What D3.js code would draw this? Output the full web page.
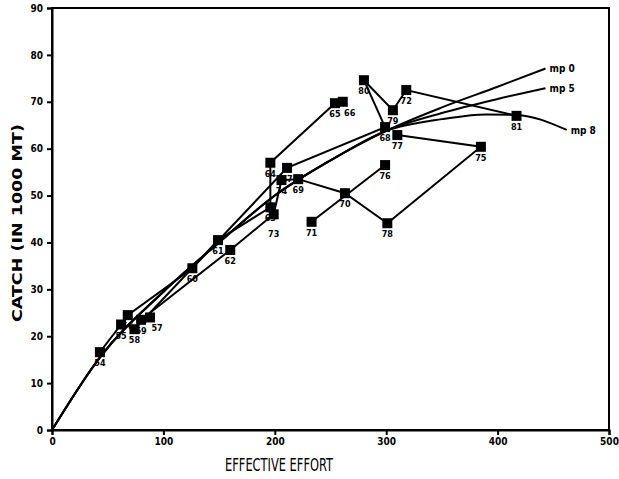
<!DOCTYPE html>
<html>
<head>
<meta charset="utf-8">
<script src="https://cdn.jsdelivr.net/npm/d3@7"></script>
<style>
  html, body { margin: 0; padding: 0; background: #fff; }
  svg { display: block; }
</style>
</head>
<body>
<svg id="chart" width="619" height="479"></svg>
<script>
// ---- data ----
const xTicks = [0, 100, 200, 300, 400, 500];
const yTicks = [0, 10, 20, 30, 40, 50, 60, 70, 80, 90];
const xTitle = "EFFECTIVE EFFORT";
const yTitle = "CATCH (IN 1000 MT)";

// observed years: label, effective effort, catch
const years  = ["54","55","56","57","58","59","60","61","62","63","64","65","66","67","68","69","70","71","72","73","74","75","76","77","78","79","80","81"];
const effort = [ 43,  62,  68,  88,  74,  80, 126, 149, 160, 196, 196, 254, 261, 211, 299, 221, 263, 233, 318, 199, 206, 385, 299, 310, 301, 306, 280, 417];
const catchV = [16.6, 22.5, 24.5, 24.0, 21.5, 23.5, 34.5, 40.5, 38.4, 47.5, 57.0, 69.7, 70.0, 55.9, 64.6, 53.5, 50.5, 44.4, 72.5, 46.0, 53.3, 60.4, 56.5, 62.9, 44.1, 68.2, 74.6, 67.0];

// connection order of the observed points (as drawn)
const track1 = ["54","55","56","60","61","63","64","65","66"];
const track2 = ["57","59","62","73","74","69","70","78","75","77"];
const track3 = ["58","67","68","80","79","72","81"];
const track4 = ["71","76"];

// model curves
const mpNames = ["mp 0", "mp 5", "mp 8"];
const mpEffort = [
  [0, 43, 100, 150, 200, 250, 300, 350, 400, 443],
  [0, 43, 100, 150, 200, 250, 300, 350, 400, 443],
  [0, 43, 100, 150, 200, 250, 300, 350, 390, 417, 462]
];
const mpCatch = [
  [0, 15.5, 29.5, 40.0, 50.0, 57.5, 63.8, 68.8, 73.2, 77.1],
  [0, 15.5, 29.5, 40.0, 50.0, 57.5, 63.8, 67.6, 70.6, 72.9],
  [0, 15.5, 29.5, 40.0, 50.0, 57.5, 63.8, 66.3, 67.3, 67.2, 64.0]
];

// ---- drawing ----
const svg = d3.select("#chart");
const L = 52, R = 609, T = 8, B = 430;
const x = d3.scaleLinear().domain([0, 500]).range([L, R]);
const y = d3.scaleLinear().domain([0, 90]).range([B, T]);
const font = "'DejaVu Sans Condensed', 'DejaVu Sans', sans-serif";

const pts = years.map((yr, i) => ({ yr, e: effort[i], c: catchV[i] }));
const byYear = new Map(pts.map(p => [p.yr, p]));

const line = d3.line().x(d => x(d.e)).y(d => y(d.c));
const curve = d3.line().x(d => x(d.e)).y(d => y(d.c)).curve(d3.curveMonotoneX);

// model curves
mpNames.forEach((name, k) => {
  const data = mpEffort[k].map((e, i) => ({ e, c: mpCatch[k][i] }));
  svg.append("path").attr("d", curve(data))
    .attr("fill", "none").attr("stroke", "#000").attr("stroke-width", 2);
  const last = data[data.length - 1];
  svg.append("text")
    .attr("x", x(last.e) + 4).attr("y", y(last.c) + 4)
    .attr("font-family", font).attr("font-weight", "bold").attr("font-size", 10)
    .text(name);
});

// observed tracks
[track1, track2, track3, track4].forEach(tr => {
  svg.append("path").attr("d", line(tr.map(t => byYear.get(t))))
    .attr("fill", "none").attr("stroke", "#000").attr("stroke-width", 2);
});

// squares
const g = svg.append("g");
g.selectAll("rect.pt").data(pts).join("rect")
  .attr("class", "pt")
  .attr("x", d => x(d.e) - 5).attr("y", d => y(d.c) - 5)
  .attr("width", 10).attr("height", 10)
  .attr("fill", "#000");

// labels: below the square, nudged to avoid overlapping other labels
const fs = 9, lw = 11, lh = 8;
const placed = [];
const overlaps = (a, b) => !(a.x1 <= b.x0 || b.x1 <= a.x0 || a.y1 <= b.y0 || b.y1 <= a.y0);
const order = pts.slice().sort((a, b) => d3.ascending(a.e, b.e));
order.forEach(p => {
  const cx = x(p.e), cy = y(p.c);
  const cands = [
    [0, 14], [-7, 14], [7, 14], [0, 23], [-11, 4], [11, 4], [0, -8], [-7, 23], [7, 23]
  ];
  let best = cands[0];
  for (const [dx, dy] of cands) {
    const box = { x0: cx + dx - lw / 2, x1: cx + dx + lw / 2, y0: cy + dy - lh, y1: cy + dy };
    if (!placed.some(b => overlaps(box, b))) { best = [dx, dy]; break; }
  }
  const bx = cx + best[0], by = cy + best[1];
  placed.push({ x0: bx - lw / 2, x1: bx + lw / 2, y0: by - lh, y1: by });
  p.lx = bx; p.ly = by;
});
g.selectAll("text.yr").data(pts).join("text")
  .attr("class", "yr")
  .attr("x", d => d.lx).attr("y", d => d.ly)
  .attr("text-anchor", "middle")
  .attr("font-family", font).attr("font-weight", "bold").attr("font-size", fs)
  .text(d => d.yr);

// frame
svg.append("rect").attr("x", L).attr("y", T).attr("width", R - L).attr("height", B - T)
  .attr("fill", "none").attr("stroke", "#000").attr("stroke-width", 2);

// axes
const xAxis = svg.append("g").attr("transform", `translate(0,${B})`)
  .call(d3.axisBottom(x).tickValues(xTicks).tickSize(5).tickPadding(3).tickFormat(d3.format("d")));
const yAxis = svg.append("g").attr("transform", `translate(${L},0)`)
  .call(d3.axisLeft(y).tickValues(yTicks).tickSize(5).tickPadding(4).tickFormat(d3.format("d")));
[xAxis, yAxis].forEach(a => {
  a.select(".domain").attr("stroke-width", 2);
  a.selectAll(".tick line").attr("stroke-width", 2);
  a.selectAll("text").attr("font-family", font).attr("font-weight", "bold").attr("font-size", 10).attr("fill", "#000");
});

// titles
svg.append("text")
  .attr("x", 279).attr("y", 471)
  .attr("text-anchor", "middle")
  .attr("font-family", font).attr("font-size", 18)
  .attr("textLength", 108).attr("lengthAdjust", "spacingAndGlyphs")
  .text(xTitle);
svg.append("text")
  .attr("transform", "translate(22,223) rotate(-90)")
  .attr("text-anchor", "middle")
  .attr("font-family", font).attr("font-weight", "bold").attr("font-size", 14)
  .attr("textLength", 198).attr("lengthAdjust", "spacingAndGlyphs")
  .text(yTitle);
</script>
</body>
</html>
